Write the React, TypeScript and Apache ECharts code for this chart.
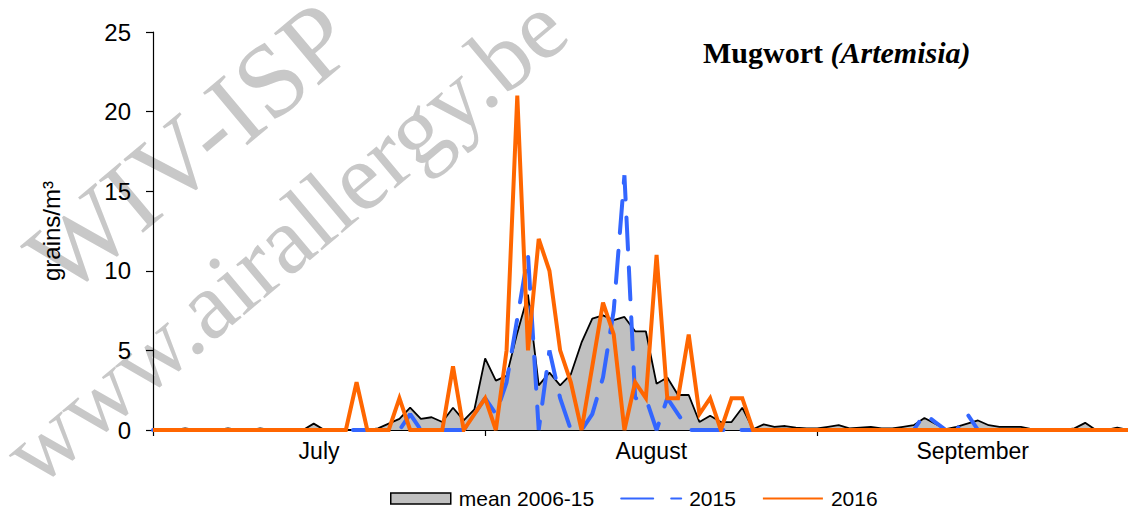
import React, { useEffect, useRef } from "react";
import * as echarts from "echarts";

// Daily values, 1 July (index 0) to 30 September (index 91)
const monthNames = ["July", "August", "September"];
const monthLengths = [31, 31, 30];
const yTickValues = [0, 5, 10, 15, 20, 25];

const mean2006_15 = [
  0, 0, 0, 0.1, 0, 0, 0, 0.1, 0, 0,
  0.1, 0, 0, 0, 0, 0.4, 0, 0, 0, 0,
  0, 0.1, 0.4, 0.7, 1.4, 0.7, 0.8, 0.5, 1.4, 0.6,
  1.3, 4.5, 3.1, 3.4, 6.1, 8.5, 2.8, 3.6, 2.8, 3.5,
  5.5, 7.0, 7.2, 6.9, 7.1, 6.2, 6.2, 2.9, 3.3, 2.2,
  2.2, 0.5, 0.9, 0.5, 0.5, 1.4, 0.05, 0.35, 0.2, 0.25,
  0.15, 0.1, 0.1, 0.2, 0.3, 0.1, 0.15, 0.2, 0.1, 0.1,
  0.2, 0.3, 0.75, 0.4, 0.05, 0.2, 0.4, 0.6, 0.3, 0.2,
  0.2, 0.2, 0.05, 0, 0, 0, 0.1, 0.45, 0, 0,
  0.15, 0,
];

const y2015 = [
  0, 0, 0, 0, 0, 0, 0, 0, 0, 0,
  0, 0, 0, 0, 0, 0, 0, 0, 0, 0,
  0, 0, 0, 0, 1, 0, 0, 0, 0, 0,
  1, 2, 1, 3, 7, 11, 0, 5, 2, 0,
  0, 1, 3.3, 7.5, 16, 2, 2, 0, 2, 1,
  0, 0, 0, 0, 0, 0, 0, 0, 0, 0,
  0, 0, 0, 0, 0, 0, 0, 0, 0, 0,
  0, 0, 1, 0.5, 0, 0, 1, 0, 0, 0,
  0, 0, 0, 0, 0, 0, 0, 0, 0, 0,
  0, 0,
];

const y2016 = [
  0, 0, 0, 0, 0, 0, 0, 0, 0, 0,
  0, 0, 0, 0, 0, 0, 0, 0, 0, 3,
  0, 0, 0, 2, 0, 0, 0, 0, 4, 0,
  1, 2, 0, 5, 21, 5, 12, 10, 5, 3,
  0, 4, 8, 6, 0, 3, 2, 11, 2, 2,
  6, 1, 2, 0, 2, 2, 0, 0, 0, 0,
  0, 0, 0, 0, 0, 0, 0, 0, 0, 0,
  0, 0, 0, 0, 0, 0, 0, 0, 0, 0,
  0, 0, 0, 0, 0, 0, 0, 0, 0, 0,
  0, 0,
];

export default function App() {
  const ref = useRef<HTMLDivElement>(null);

  useEffect(() => {
    const chart = echarts.init(ref.current!, null, { renderer: "svg" });

    const starts: number[] = [];
    const centers: number[] = [];
    let acc = 0;
    monthLengths.forEach((len) => {
      starts.push(acc);
      centers.push(acc + len / 2);
      acc += len;
    });
    const lastIndex = mean2006_15.length - 1;
    centers[2] = starts[2] + (lastIndex - starts[2]) / 2;

    const toPairs = (arr: number[]) => arr.map((v, i) => [i, v]);
    const font = "'Liberation Sans', Arial, sans-serif";
    const serif = "'Liberation Serif', 'Times New Roman', serif";
    const angle = (40 * Math.PI) / 180;

    chart.setOption({
      animation: false,
      backgroundColor: "#ffffff",
      grid: { left: 153, right: 0, top: 32, bottom: 85, containLabel: false },
      xAxis: {
        type: "value",
        min: 0,
        max: lastIndex,
        axisLine: { show: true, onZero: false, lineStyle: { color: "#000", width: 1.2 } },
        axisTick: {
          show: true,
          customValues: starts,
          length: 6,
          lineStyle: { color: "#000", width: 1.2 },
        },
        axisLabel: {
          customValues: centers,
          formatter: (v: number) => {
            let best = 0;
            centers.forEach((c, k) => {
              if (Math.abs(c - v) < Math.abs(centers[best] - v)) best = k;
            });
            return monthNames[best];
          },
          color: "#000",
          fontFamily: font,
          fontSize: 23,
          margin: 9,
        },
        splitLine: { show: false },
      },
      yAxis: {
        type: "value",
        min: yTickValues[0],
        max: yTickValues[yTickValues.length - 1],
        interval: 5,
        name: "grains/m³",
        nameLocation: "middle",
        nameGap: 90,
        nameTextStyle: { color: "#000", fontFamily: font, fontSize: 24 },
        axisLine: { show: true, lineStyle: { color: "#000", width: 1.2 } },
        axisTick: { show: true, length: 7, lineStyle: { color: "#000", width: 1.2 } },
        axisLabel: { color: "#000", fontFamily: font, fontSize: 24, margin: 22 },
        splitLine: { show: false },
      },
      legend: {
        left: 390,
        top: 488,
        padding: 0,
        itemWidth: 60,
        itemHeight: 11,
        itemGap: 26,
        textStyle: { color: "#000", fontFamily: font, fontSize: 21, padding: [0, 0, 0, 3] },
        data: [
          {
            name: "mean 2006-15",
            icon: "rect",
            itemStyle: { color: "#c0c0c0", borderColor: "#000", borderWidth: 1.5 },
          },
          { name: "2015", itemStyle: { opacity: 0 } },
          { name: "2016", itemStyle: { opacity: 0 } },
        ],
      },
      graphic: [
        {
          type: "text",
          x: 75,
          y: 312,
          rotation: angle,
          z: -10,
          silent: true,
          style: {
            text: "WIV-ISP",
            fill: "#c8c8c8",
            font: `105px ${serif}`,
            textAlign: "left",
            textVerticalAlign: "bottom",
          },
        },
        {
          type: "text",
          x: 47,
          y: 501,
          rotation: angle,
          z: -10,
          silent: true,
          style: {
            text: "www.airallergy.be",
            fill: "#c8c8c8",
            font: `96px ${serif}`,
            textAlign: "left",
            textVerticalAlign: "bottom",
          },
        },
        {
          type: "text",
          x: 703,
          y: 52,
          z: 10,
          style: {
            text: "{b|Mugwort }{bi|(Artemisia)}",
            textVerticalAlign: "middle",
            rich: {
              b: { fontFamily: serif, fontWeight: "bold", fontSize: 30, fill: "#000" },
              bi: {
                fontFamily: serif,
                fontWeight: "bold",
                fontStyle: "italic",
                fontSize: 30,
                fill: "#000",
              },
            },
          },
        },
      ],
      series: [
        {
          name: "mean 2006-15",
          type: "line",
          data: toPairs(mean2006_15),
          symbol: "none",
          lineStyle: { color: "#000", width: 1.8 },
          itemStyle: { color: "#c0c0c0", borderColor: "#000" },
          areaStyle: { color: "#c0c0c0", opacity: 1 },
          z: 2,
        },
        {
          name: "2015",
          type: "line",
          data: toPairs(y2015),
          symbol: "none",
          lineStyle: { color: "#3366ff", width: 4, type: [32, 18], cap: "round" },
          itemStyle: { color: "#3366ff" },
          z: 3,
        },
        {
          name: "2016",
          type: "line",
          data: toPairs(y2016),
          symbol: "none",
          lineStyle: { color: "#ff6600", width: 4, join: "miter" },
          itemStyle: { color: "#ff6600" },
          z: 4,
        },
      ],
    });

    return () => chart.dispose();
  }, []);

  return (
    <div
      ref={ref}
      style={{ position: "fixed", left: 0, top: 0, width: 1128, height: 515, background: "#fff" }}
    />
  );
}
